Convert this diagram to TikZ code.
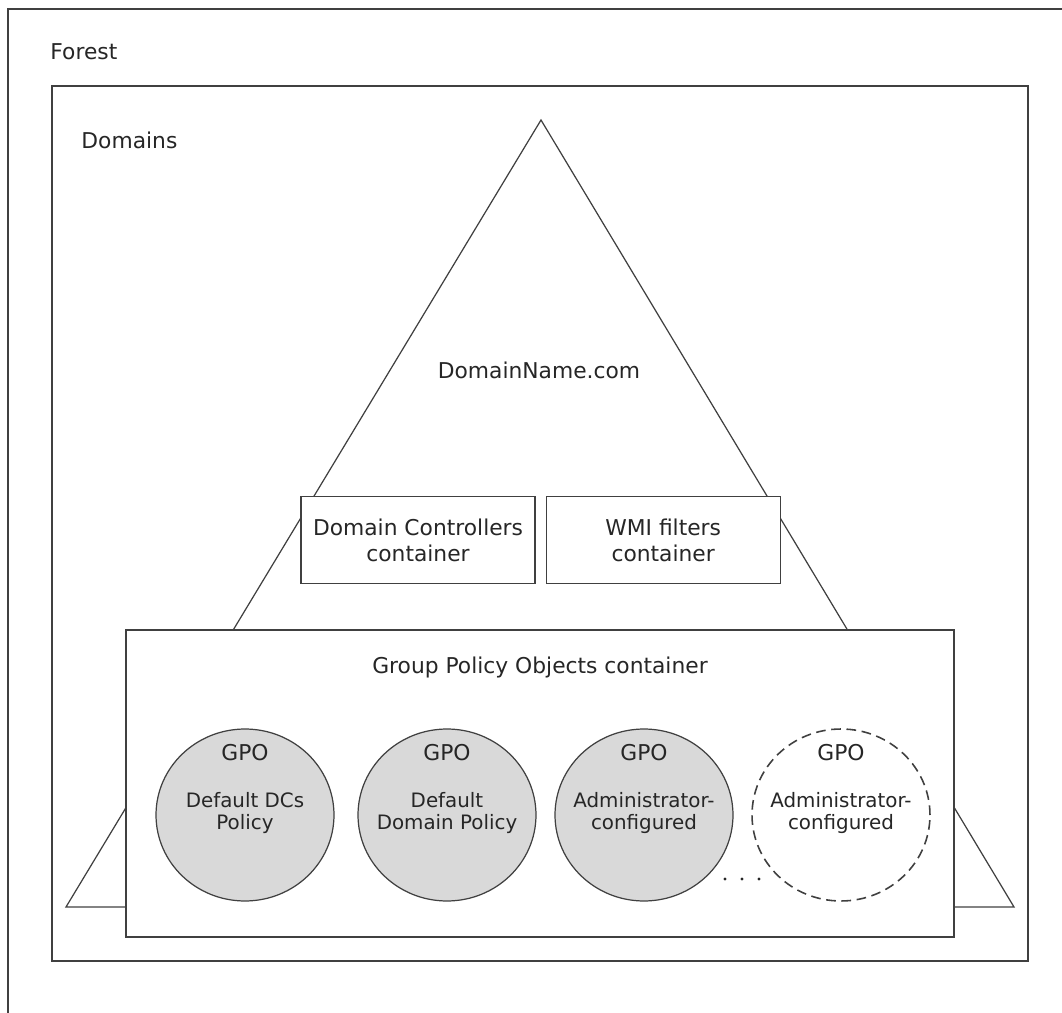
\documentclass[tikz,border=0pt]{standalone}
\usepackage{fontspec}
\setmainfont{DejaVu Sans}
\usetikzlibrary{positioning,shapes.geometric}

\begin{document}
\begin{tikzpicture}[x=0.02cm,y=-0.02cm,line width=0.7pt,color=black!75,
  lbl/.style={text=black!85,font=\fontsize{12.4}{14.8}\selectfont,align=center},
  box/.style={lbl,draw=black!75,fill=white,minimum width=4.68cm,minimum height=1.74cm},
  gpo/.style={ellipse,draw=black!75,fill=black!15,minimum width=3.56cm,minimum height=3.44cm},
  gpotext/.style={text=black!85,font=\fontsize{11.3}{13}\selectfont,align=center}]
\useasboundingbox (0,0) rectangle (1062,1013);

% forest and domains
\draw[line width=1.1pt] (1062,9) -| (8,1013);
\node[lbl,anchor=west] (forest) at (44,52) {Forest};
\draw[line width=1.1pt] (52,86) rectangle (1028,961);
\node[lbl,anchor=west] (domains) at (75,140) {Domains};

% the domain
\draw (541,120) -- (1014,907) -- (66,907) -- cycle;
\node[lbl] (dname) at (539,370) {DomainName.com};

\node[box] (dcs) at (418,540) {Domain Controllers\\container};
\node[box,right=0.2cm of dcs] (wmi) {WMI filters\\container};

% GPO container
\node[box,minimum width=16.56cm,minimum height=6.14cm] (gpc) at (540,783.5) {};
\node[lbl] (gpctitle) at (540,667) {Group Policy Objects container};

\node[gpo] (g1) at (245,815) {};
\node[gpo] (g2) at (447,815) {};
\node[gpo] (g3) at (644,815) {};
\node[gpo,fill=white,line width=0.9pt,dash pattern=on 5.5pt off 3.2pt] (g4) at (841,815) {};

\foreach \g/\t in {g1/Default DCs\\Policy,g2/Default\\Domain Policy,g3/Administrator-\\configured,g4/Administrator-\\configured}{
  \node[lbl] at ([yshift=1.24cm]\g.center) {GPO};
  \node[gpotext] at ([yshift=0.04cm]\g.center) {\t};
}

\foreach \x in {725,742,759}
  \fill[black!85] (\x,879) circle (0.9pt);
\end{tikzpicture}
\end{document}
